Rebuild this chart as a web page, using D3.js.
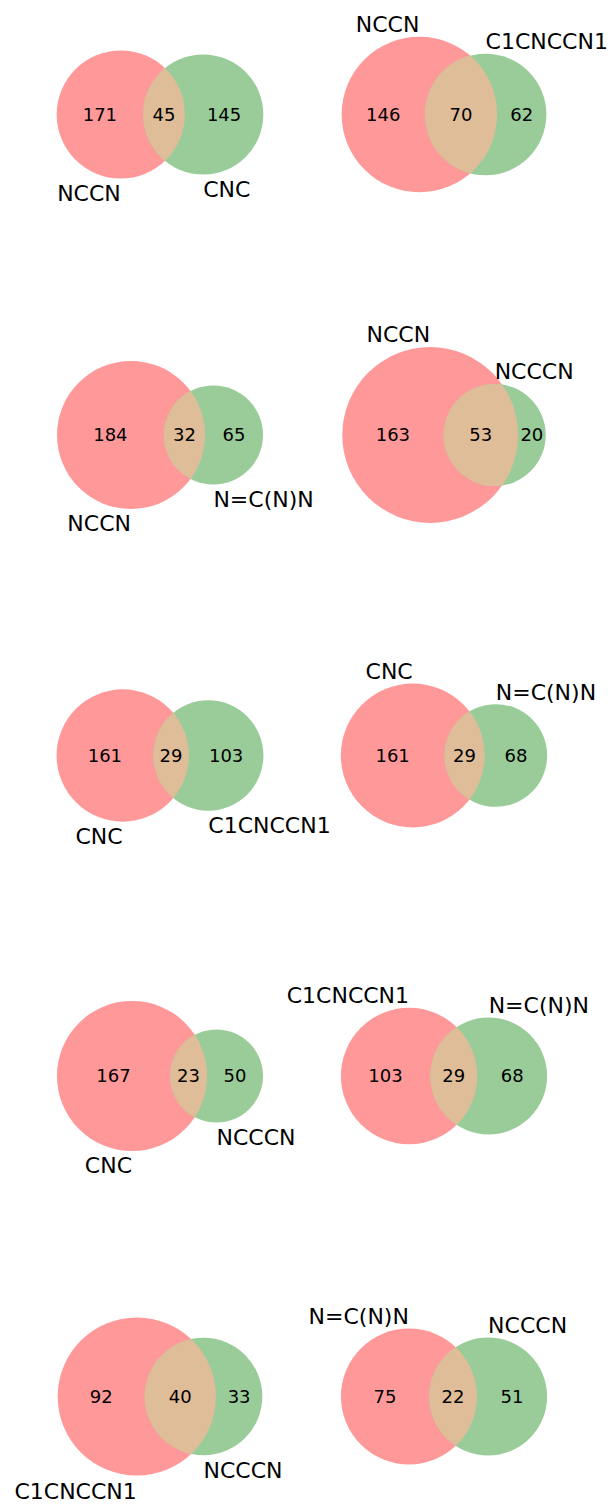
<!DOCTYPE html>
<html>
<head>
<meta charset="utf-8">
<script src="https://cdn.jsdelivr.net/npm/d3@7"></script>
<style>
  body { margin: 0; background: #fff; }
  text { font-family: "DejaVu Sans", sans-serif; fill: #000; }
</style>
</head>
<body>
<div id="main-chart"></div>
<script>
// one entry per venn panel, read left to right, top to bottom
const setA = ["NCCN", "NCCN", "NCCN", "NCCN", "CNC", "CNC", "CNC", "C1CNCCN1", "C1CNCCN1", "N=C(N)N"];
const setB = ["CNC", "C1CNCCN1", "N=C(N)N", "NCCCN", "C1CNCCN1", "N=C(N)N", "NCCCN", "N=C(N)N", "NCCCN", "NCCCN"];
const onlyA = [171, 146, 184, 163, 161, 161, 167, 103, 92, 75];
const both = [45, 70, 32, 53, 29, 29, 23, 29, 40, 22];
const onlyB = [145, 62, 65, 20, 103, 68, 50, 68, 33, 51];
const labelSide = ["below", "above", "below", "above", "below", "above", "below", "above", "below", "above"];

const width = 613;
const height = 1505;
const colCenters = [160, 444];
const rowTop = 114.5;
const rowStep = 320.5;
const cellW = 236;
const cellH = 260;
const numSize = 18;
const labelSize = 22;

const colorA = "#ff9999";
const colorB = "#99cc99";
const colorAB = "#e0bd99";

// area of the lens between two circles at distance d
const lensArea = (r1, r2, d) => {
  if (d >= r1 + r2) return 0;
  if (d <= Math.abs(r1 - r2)) return Math.PI * Math.min(r1, r2) ** 2;
  const a1 = Math.acos((d * d + r1 * r1 - r2 * r2) / (2 * d * r1));
  const a2 = Math.acos((d * d + r2 * r2 - r1 * r1) / (2 * d * r2));
  return (
    r1 * r1 * (a1 - Math.sin(2 * a1) / 2) + r2 * r2 * (a2 - Math.sin(2 * a2) / 2)
  );
};

const findDistance = (r1, r2, area) => {
  let lo = Math.abs(r1 - r2);
  let hi = r1 + r2;
  for (let i = 0; i < 80; i++) {
    const mid = (lo + hi) / 2;
    if (lensArea(r1, r2, mid) > area) lo = mid;
    else hi = mid;
  }
  return (lo + hi) / 2;
};

const layout = (i) => {
  const total = onlyA[i] + both[i] + onlyB[i];
  const rA = Math.sqrt((onlyA[i] + both[i]) / total / Math.PI);
  const rB = Math.sqrt((onlyB[i] + both[i]) / total / Math.PI);
  const d = findDistance(rA, rB, both[i] / total);
  const minX = Math.min(-rA, d - rB);
  const maxX = Math.max(rA, d + rB);
  const rMax = Math.max(rA, rB);
  const bw = maxX - minX + 0.2;
  const bh = 2 * rMax + 0.2;
  const s = Math.min(cellW / bw, cellH / bh);
  const cx = colCenters[i % 2];
  const cy = rowTop + rowStep * Math.floor(i / 2);
  const x = d3
    .scaleLinear()
    .domain([minX - 0.1, maxX + 0.1])
    .range([cx - (bw * s) / 2, cx + (bw * s) / 2]);
  const y = d3
    .scaleLinear()
    .domain([-rMax - 0.1, rMax + 0.1])
    .range([cy + (bh * s) / 2, cy - (bh * s) / 2]);
  return { rA, rB, d, x, y, s };
};

const drawPanel = (g, i) => {
  const { rA, rB, d, x, y, s } = layout(i);
  const id = `clip-a-${i}`;

  g.append("clipPath")
    .attr("id", id)
    .append("circle")
    .attr("cx", x(0))
    .attr("cy", y(0))
    .attr("r", rA * s);

  g.append("circle")
    .attr("cx", x(0))
    .attr("cy", y(0))
    .attr("r", rA * s)
    .attr("fill", colorA);

  g.append("circle")
    .attr("cx", x(d))
    .attr("cy", y(0))
    .attr("r", rB * s)
    .attr("fill", colorB);

  g.append("circle")
    .attr("cx", x(d))
    .attr("cy", y(0))
    .attr("r", rB * s)
    .attr("fill", colorAB)
    .attr("clip-path", `url(#${id})`);

  const numbers = [
    { v: onlyA[i], pos: (-rA + d - rB) / 2 },
    { v: both[i], pos: (d - rB + rA) / 2 },
    { v: onlyB[i], pos: (rA + d + rB) / 2 },
  ];

  g.selectAll(".num")
    .data(numbers)
    .join("text")
    .attr("class", "num")
    .attr("x", (n) => x(n.pos))
    .attr("y", y(0))
    .attr("dy", "0.35em")
    .attr("text-anchor", "middle")
    .attr("font-size", numSize)
    .text((n) => n.v);

  const pad = ((rA + rB) / 2) * 0.1 * s;
  const labels = [
    { t: setA[i], cx: 0, r: rA, anchor: "end" },
    { t: setB[i], cx: d, r: rB, anchor: "start" },
  ];

  g.selectAll(".set-label")
    .data(labels)
    .join("text")
    .attr("class", "set-label")
    .attr("x", (l) => x(l.cx))
    .attr("y", (l) =>
      labelSide[i] === "below"
        ? y(-l.r) + pad + 0.729 * labelSize
        : y(l.r) - pad * 0.7
    )
    .attr("text-anchor", (l) => l.anchor)
    .attr("font-size", labelSize)
    .text((l) => l.t);
};

const svg = d3
  .select("#main-chart")
  .append("svg")
  .attr("width", width)
  .attr("height", height);

svg
  .selectAll(".panel")
  .data(d3.range(setA.length))
  .join("g")
  .attr("class", "panel")
  .each(function (i) {
    drawPanel(d3.select(this), i);
  });
</script>
</body>
</html>
